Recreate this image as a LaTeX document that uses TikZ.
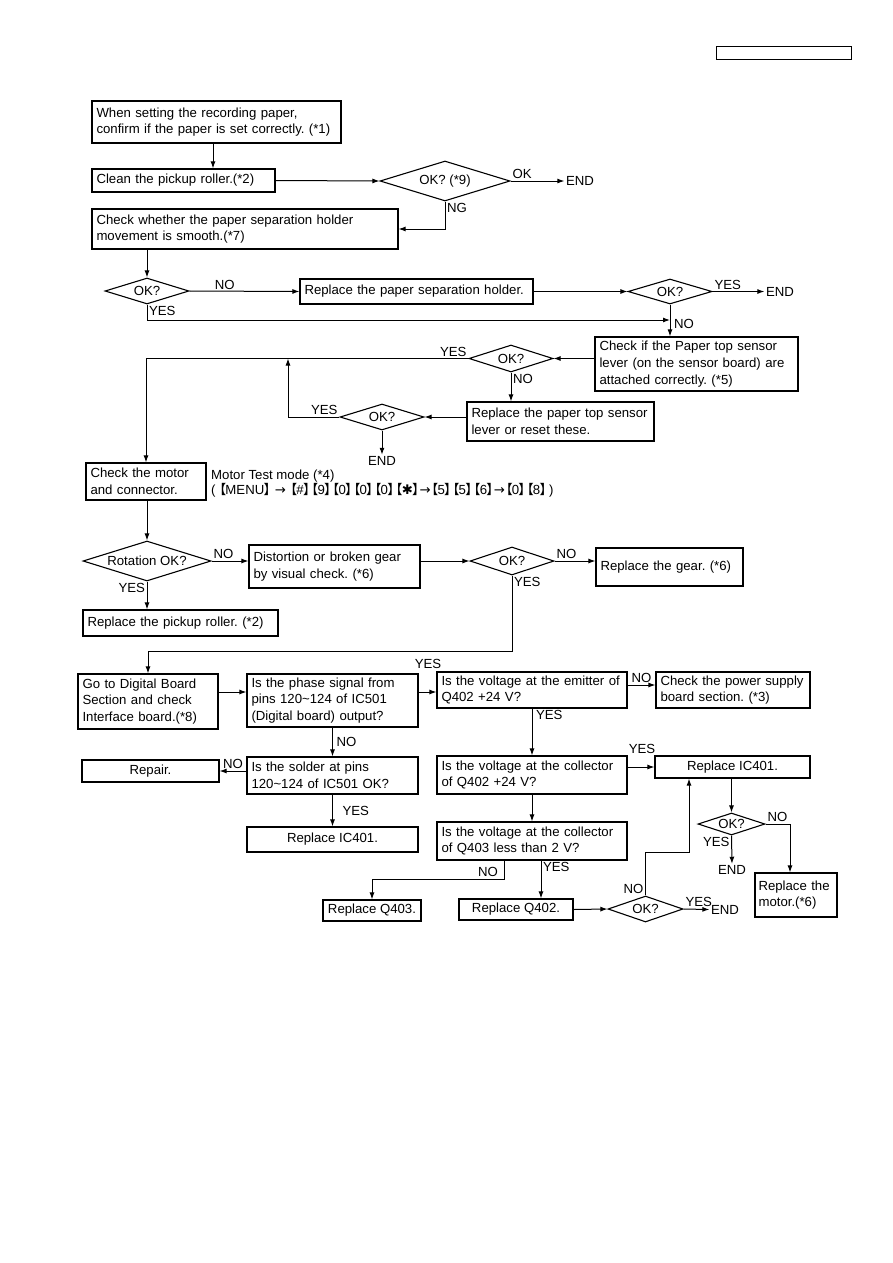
\documentclass[tikz,border=0pt]{standalone}
\usepackage{fontspec}
\setmainfont{Liberation Sans}
\newfontfamily\cjk{Noto Sans CJK JP}
\newfontfamily\djv{DejaVu Sans}
\usepackage{tikz}
\usetikzlibrary{
	arrows.meta,
	positioning,
	calc,
	shapes.geometric
}
\newcommand\kk[1]{{\cjk\kern-0.42em【\kern-0.06em}#1{\cjk\kern-0.06em】\kern-0.42em}}
\newcommand\ar{{\djv →}}

\begin{document}
\begin{tikzpicture}[x=1pt,y=-1pt,>={Latex[length=7pt,width=5pt]},
	every node/.style={font=\fontsize{13.2}{16.7}\selectfont,
		execute at begin node={\hyphenpenalty=10000\relax\frenchspacing}},
	box/.style={draw,line width=1.2pt,align=left,inner xsep=4.5pt,inner ysep=0pt},
	cbox/.style={draw,line width=1.2pt,align=center,inner sep=0pt},
	dec/.style={diamond,draw,line width=1.1pt,aspect=3.2,inner sep=0pt},
	lbl/.style={inner sep=1.5pt},
	conn/.style={line width=1pt}]
	
	\useasboundingbox (0,0) rectangle (893,1263);
	
	\node[draw,line width=1pt,minimum width=135pt,minimum height=13pt,inner sep=0pt] (hdr) at (783.5,53.5) {};
	
	\node[box,text width=240pt,minimum height=42pt] (b1) at (216.5,122)
	{When setting the recording paper,\\confirm if the paper is set correctly. (*1)};
	\node[box,text width=174pt,minimum height=23pt] (b2) at (183.5,180.5)
	{Clean the pickup roller.(*2)};
	\node[dec,minimum width=130pt,minimum height=40pt] (d1) at (445,181) {OK? (*9)};
	\node[lbl] (endA) at (580,181) {END};
	\node[box,text width=297pt,minimum height=40pt] (b3) at (245,229)
	{Check whether the paper separation holder\\movement is smooth.(*7)};
	
	\node[dec,minimum width=84pt,minimum height=26pt] (d2) at (147,291) {OK?};
	\node[box,text width=224pt,minimum height=25pt] (b4) at (416.5,291.5)
	{Replace the paper separation holder.};
	\node[dec,minimum width=84pt,minimum height=25pt] (d3) at (670,291.5) {OK?};
	\node[lbl] (endB) at (780,291.5) {END};
	\coordinate (j1) at (670,320);
	
	\node[box,text width=194pt,minimum height=54pt] (b5) at (696.5,364)
	{Check if the Paper top sensor\\lever (on the sensor board) are\\attached correctly. (*5)};
	\node[dec,minimum width=84pt,minimum height=27pt] (d4) at (511,358.5) {OK?};
	\node[box,text width=178pt,minimum height=39pt] (b7) at (560.5,421.5)
	{Replace the paper top sensor\\lever or reset these.};
	\node[dec,minimum width=84pt,minimum height=26pt] (d5) at (382,417) {OK?};
	\node[lbl] (endC) at (382,461) {END};
	\coordinate (j2) at (288,358.5);
	
	\node[box,text width=111pt,minimum height=37pt] (b6) at (146,481.5)
	{Check the motor\\and connector.};
	\node[anchor=north west,align=left,inner sep=0pt] (mt) at (211,470)
	{Motor Test mode (*4)\\[-1.7pt](\kern3pt\kk{MENU} \ar{} \kk{\#}\kk{9}\kk{0}\kk{0}\kk{0}\kk{{\djv ✱}}\ar\kk{5}\kk{5}\kk{6}\ar\kk{0}\kk{8}\kern2pt)};
	
	\node[dec,aspect=3.3,minimum width=128pt,minimum height=40pt] (d6) at (147,561) {Rotation OK?};
	\node[box,text width=162pt,minimum height=43pt] (b8) at (334.5,566.5)
	{Distortion or broken gear\\by visual check. (*6)};
	\node[dec,minimum width=84pt,minimum height=28pt] (d7) at (512,561) {OK?};
	\node[box,text width=138pt,minimum height=38pt] (b9) at (669.5,567)
	{Replace the gear. (*6)};
	\node[box,text width=186pt,minimum height=26pt] (b10) at (180.5,623)
	{Replace the pickup roller. (*2)};
	\coordinate (j3) at (512,651);
	
	\node[box,text width=131pt,minimum height=55pt] (b11) at (148,701.5)
	{Go to Digital Board\\Section and check\\Interface board.(*8)};
	\node[box,text width=162pt,minimum height=53pt] (b12) at (332.5,700.5)
	{Is the phase signal from\\pins 120\textasciitilde124 of IC501\\(Digital board) output?};
	\node[box,text width=181pt,minimum height=36pt] (b13) at (532,690)
	{Is the voltage at the emitter of\\Q402 +24 V?};
	\node[box,text width=145pt,minimum height=36pt] (b14) at (733,690)
	{Check the power supply\\board section. (*3)};
	\node[lbl] (yesA) at (428,664) {YES};
	
	\node[cbox,minimum width=137pt,minimum height=22pt] (b21) at (150.5,771) {Repair.};
	\node[box,text width=162pt,minimum height=37pt] (b22) at (332.5,775.5)
	{Is the solder at pins\\120\textasciitilde124 of IC501 OK?};
	\node[cbox,minimum width=171pt,minimum height=25pt] (b23) at (332.5,839.5) {Replace IC401.};
	
	\node[box,text width=181pt,minimum height=38pt] (b15) at (532,775)
	{Is the voltage at the collector\\of Q402 +24 V?};
	\node[cbox,minimum width=155pt,minimum height=22pt] (b16) at (732.5,767) {Replace IC401.};
	\node[lbl] (yesB) at (642,749) {YES};
	\node[box,text width=181pt,minimum height=38pt] (b17) at (532,841)
	{Is the voltage at the collector\\of Q403 less than 2 V?};
	\coordinate (j4) at (504,879);
	\node[cbox,minimum width=98pt,minimum height=21pt] (b18) at (372,910.5) {Replace Q403.};
	\node[cbox,minimum width=114pt,minimum height=21pt] (b19) at (516,909.5) {Replace Q402.};
	\node[dec,minimum width=75pt,minimum height=26pt] (d8) at (645.5,909) {OK?};
	\node[lbl] (endD) at (725,909.5) {END};
	\coordinate (j5) at (689,852);
	\node[dec,minimum width=67pt,minimum height=22pt] (d9) at (731.5,824) {OK?};
	\node[lbl] (endE) at (732,870) {END};
	\node[box,inner xsep=3.5pt,text width=75pt,minimum height=44pt] (b20) at (796,895)
	{Replace the\\motor.(*6)};
	
	\draw[->,conn] ([xshift=-3.5pt]b1.south) -- ([xshift=-3.5pt]b1.south |- b2.north);
	\draw[->,conn] (b2.east) -- (d1.west);
	\draw[->,conn] (d1.east) -- (endA.west)
	node[lbl,pos=0,anchor=south west] {OK};
	\draw[->,conn] (d1.south) |- (b3.east)
	node[lbl,pos=0,anchor=north west] {NG};
	\draw[->,conn] (d2.north |- b3.south) -- (d2.north);
	
	\draw[->,conn] (d2.east) -- (b4.west)
	node[lbl,pos=0.32,above] {NO};
	\draw[->,conn] (b4.east) -- (d3.west);
	\draw[->,conn] (d3.east) -- (endB.west)
	node[lbl,pos=0,anchor=south west] {YES};
	\draw[->,conn] (d2.south) |- (j1)
	node[lbl,pos=0,anchor=north west] {YES};
	\draw[->,conn] (d3.south) -- (d3.south |- b5.north)
	node[lbl,pos=0.62,anchor=west,xshift=2pt] {NO};
	
	\draw[->,conn] (b5.west |- d4.east) -- (d4.east);
	\draw[->,conn] (d4.west) -| (b6.north)
	node[lbl,pos=0,anchor=south east] {YES};
	\draw[->,conn] (d4.south) -- (d4.south |- b7.north)
	node[lbl,pos=0,anchor=north west] {NO};
	\draw[->,conn] (b7.west |- d5.east) -- (d5.east);
	\draw[->,conn] (d5.west) -| (j2)
	node[lbl,pos=0,anchor=south east] {YES};
	\draw[->,conn] (d5.south) -- (endC.north);
	
	\draw[->,conn] (b6.south -| d6.north) -- (d6.north);
	\draw[->,conn] (d6.east) -- (d6.east -| b8.west)
	node[lbl,pos=0,anchor=south west] {NO};
	\draw[->,conn] (b8.east |- d7.west) -- (d7.west);
	\draw[->,conn] (d7.east) -- (d7.east -| b9.west)
	node[lbl,pos=0,anchor=south west] {NO};
	\draw[->,conn] (d6.south) -- (d6.south |- b10.north)
	node[lbl,pos=0,anchor=north east] {YES};
	\draw[->,conn] (d7.south) node[lbl,anchor=north west] {YES}
	-- (j3) -| (b11.north);
	
	\draw[->,conn] ([yshift=9.5pt]b11.east) -- ([yshift=9.5pt]b11.east -| b12.west);
	\draw[->,conn] ([yshift=8.5pt]b12.east) -- ([yshift=8.5pt]b12.east -| b13.west);
	\draw[->,conn] ([yshift=5pt]b13.east) -- ([yshift=5pt]b13.east -| b14.west)
	node[lbl,midway,above] {NO};
	\draw[->,conn] (b13.south) -- (b15.north)
	node[lbl,pos=0,anchor=north west,xshift=2pt] {YES};
	\draw[->,conn] ([yshift=8pt]b15.east) -- ([yshift=8pt]b15.east -| b16.west);
	\draw[->,conn] (b15.south) -- (b17.north);
	
	\draw[->,conn] (b12.south) -- (b22.north)
	node[lbl,midway,right,xshift=2pt] {NO};
	\draw[->,conn] (b22.west |- b21.east) -- (b21.east)
	node[lbl,midway,above] {NO};
	\draw[->,conn] (b22.south) -- (b23.north)
	node[lbl,midway,right,xshift=8pt] {YES};
	
	\draw[->,conn] (j4 |- b17.south) -- (j4) -| (b18.north)
	node[lbl,pos=0,anchor=south east,xshift=-4pt] {NO};
	\draw[->,conn] ([xshift=9pt]b17.south) -- ([xshift=9pt]b17.south |- b19.north)
	node[lbl,pos=0,anchor=north west] {YES};
	\draw[->,conn] (b19.east) -- (d8.west);
	\draw[->,conn] (d8.east) -- (endD.west)
	node[lbl,pos=0,anchor=south west] {YES};
	\draw[->,conn] (d8.north) node[lbl,anchor=south east] {NO}
	|- (j5) -- (j5 |- b16.south);
	\draw[->,conn] (b16.south -| d9.north) -- (d9.north);
	\draw[->,conn] (d9.south) -- (endE.north)
	node[lbl,pos=0,anchor=north east] {YES};
	\draw[->,conn] (d9.east) -| ([xshift=-6pt]b20.north)
	node[lbl,pos=0,anchor=south west] {NO};
	
\end{tikzpicture}
\end{document}
